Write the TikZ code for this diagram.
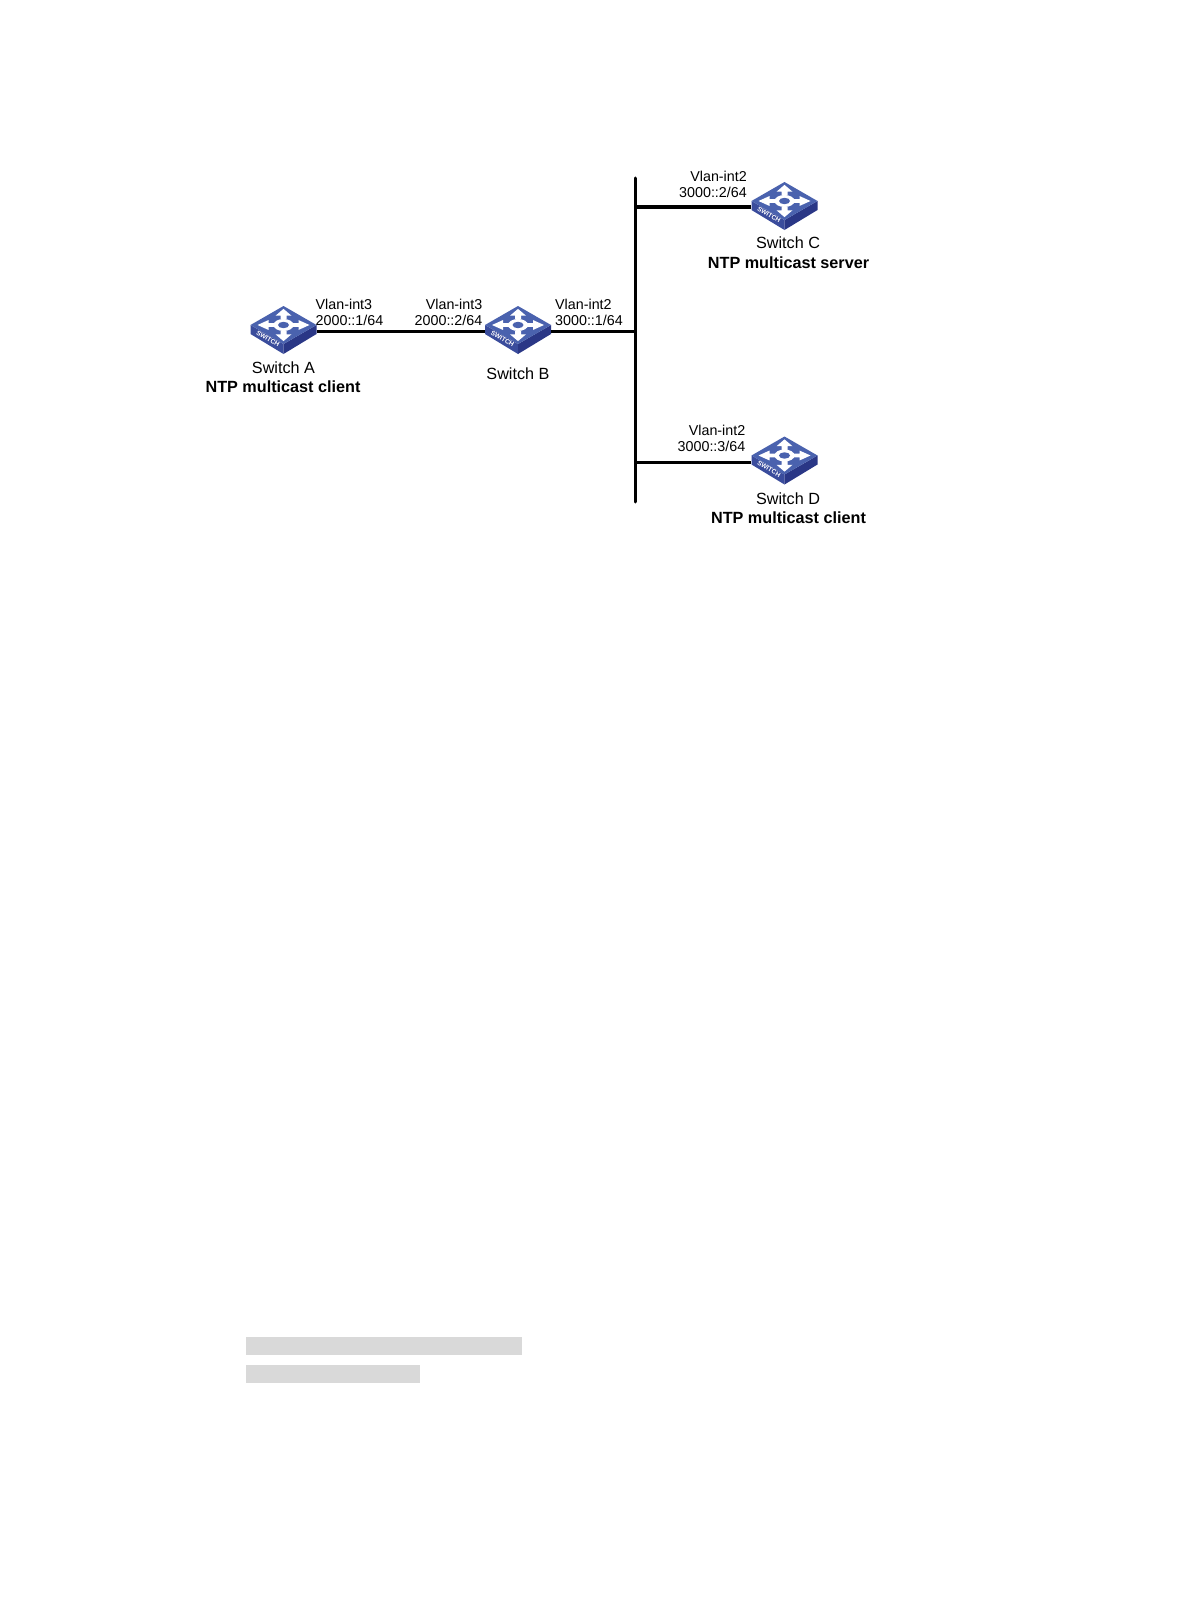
\documentclass[tikz,border=0pt]{standalone}
\usepackage{fontspec}
\setmainfont{Liberation Sans}
\definecolor{swtop}{HTML}{4A62AE}
\definecolor{swleft}{HTML}{3A4C9C}
\definecolor{swright}{HTML}{2A3786}
\definecolor{barfill}{HTML}{D9D9D9}
\newcommand{\switchicon}[3]{%
    \node[swnode] (#1) at (#2,#3) {};
    \begin{scope}[shift={(#2,#3-6)}]
        \fill[swleft] (-33,0) -- (0,19) -- (0,29) -- (-33,9) -- cycle;
        \fill[swright] (33,0) -- (0,19) -- (0,29) -- (33,9) -- cycle;
        \fill[swtop] (-33,0) -- (0,-19) -- (33,0) -- (0,19) -- cycle;
        \foreach \ang in {0,90,180,270}
            \fill[white, yscale=0.62, rotate=\ang] (9,-3) -- (15,-3) -- (15,-8) -- (26,0) -- (15,8) -- (15,3) -- (9,3) -- cycle;
        \fill[white] (0,0) ellipse (10 and 6);
        \fill[swtop] (0,0) ellipse (5.5 and 3.2);
        \node[swtext] at (-15.5,13.5) {SWITCH};
    \end{scope}
}
\begin{document}
\begin{tikzpicture}[x=1pt, y=-1pt,
    swnode/.style={minimum width=66pt, minimum height=46pt, inner sep=0pt},
    swtext/.style={text=white, font=\bfseries\fontsize{6.5}{6.5}\selectfont, rotate=-30, inner sep=0pt},
    iflabel/.style={font=\fontsize{14.3}{16}\selectfont, align=right, inner sep=0pt, anchor=east},
    ifleft/.style={font=\fontsize{14.3}{16}\selectfont, align=left, inner sep=0pt, anchor=west},
    namelabel/.style={font=\fontsize{16.2}{18}\selectfont, inner sep=0pt},
    rolelabel/.style={font=\bfseries\fontsize{16.2}{18}\selectfont, inner sep=0pt},
    wire/.style={line width=3pt}]
    \useasboundingbox (0,0) rectangle (1190,1616);
    \fill[white] (0,0) rectangle (1190,1616);

    \switchicon{swA}{283.5}{331}
    \switchicon{swB}{518}{331}
    \switchicon{swC}{784.5}{207}
    \switchicon{swD}{784.5}{461.5}

    \coordinate (busTop) at (635.7,178);
    \coordinate (busBot) at (635.7,502);
    \coordinate (busB) at (635.7,331);
    \coordinate (busC) at (635.7,207);
    \coordinate (busD) at (635.7,462.5);

    \draw[wire, line cap=round] (busTop) -- (busBot);
    \draw[wire] (swA.east) -- (swB.west);
    \draw[wire] (swB.east) -- (busB);
    \draw[wire] (swC.west) -- (busC);
    \draw[wire] (swD.west |- busD) -- (busD);

    \node[ifleft] (ifA) at (315.5,312.5) {Vlan-int3\\2000::1/64};
    \node[iflabel] (ifBl) at (482.5,312.5) {Vlan-int3\\2000::2/64};
    \node[ifleft] (ifBr) at (555,312.5) {Vlan-int2\\3000::1/64};
    \node[iflabel] (ifC) at (747,184) {Vlan-int2\\3000::2/64};
    \node[iflabel] (ifD) at (745.5,438.5) {Vlan-int2\\3000::3/64};

    \node[namelabel] (nameA) at (283.5,368) {Switch A};
    \node[rolelabel] (roleA) at (283,387) {NTP multicast client};
    \node[namelabel] (nameB) at (518,374) {Switch B};
    \node[namelabel] (nameC) at (788,243) {Switch C};
    \node[rolelabel] (roleC) at (788.5,263) {NTP multicast server};
    \node[namelabel] (nameD) at (788,499) {Switch D};
    \node[rolelabel] (roleD) at (788.5,518) {NTP multicast client};

    \fill[barfill] (246,1337) rectangle (522,1355);
    \fill[barfill] (246,1365) rectangle (420,1383);
\end{tikzpicture}
\end{document}
